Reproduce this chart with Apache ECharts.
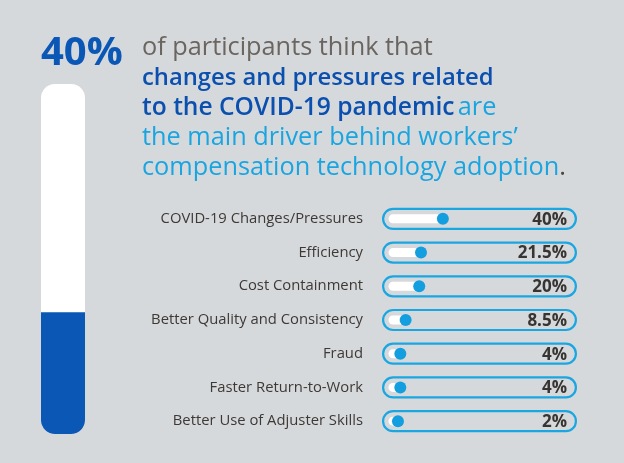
<!DOCTYPE html>
<html>
<head>
<meta charset="utf-8">
<script src="https://cdn.jsdelivr.net/npm/echarts@6/dist/echarts.min.js"></script>
<style>
html,body{margin:0;padding:0;background:#d6d9dc;}
#chart{width:624px;height:463px;}
</style>
</head>
<body>
<div id="chart"></div>
<script>
// ---- data ----
const headlineValue = 40;
const categories = [
  'COVID-19 Changes/Pressures',
  'Efficiency',
  'Cost Containment',
  'Better Quality and Consistency',
  'Fraud',
  'Faster Return-to-Work',
  'Better Use of Adjuster Skills'
];
const values = [40, 21.5, 20, 8.5, 4, 4, 2];
const headlineLines = [
  'of participants think that',
  'changes and pressures related',
  'to the COVID-19 pandemic',
  'are',
  'the main driver behind workers\u2019',
  'compensation technology adoption',
  '.'
];

// ---- chart ----
const FONT = '"Open Sans", "Noto Sans", sans-serif';
const chart = echarts.init(document.getElementById('chart'), null, {renderer: 'canvas'});

function renderRow(params, api) {
  const cs = params.coordSys;
  const v = api.value(0);
  const p = api.coord([v, api.value(1)]);
  const cy = p[1];
  const left = cs.x, w = cs.width;
  return {
    type: 'group',
    children: [
      {type: 'rect', shape: {x: left + 1.1, y: cy - 10, width: w - 2.2, height: 20, r: 10},
        style: {fill: 'none', stroke: '#1aa6e1', lineWidth: 2.2}},
      {type: 'rect', shape: {x: left + 6.5, y: cy - 4.5, width: Math.max(p[0] - left - 6.5, 0), height: 9, r: 4.5},
        style: {fill: '#ffffff'}},
      {type: 'circle', shape: {cx: p[0], cy: cy, r: 6}, style: {fill: '#139fdf'}},
      {type: 'text', x: left + w - 10, y: cy + 1,
        style: {text: String(v) + '%', align: 'right', verticalAlign: 'middle',
          font: 'bold 17px ' + FONT, fill: '#383431'}}
    ]
  };
}

const REG = '400 25.3px ' + FONT;
const MED = '500 25.3px ' + FONT;
const BOLD = '600 24.6px ' + FONT;
const BOLD2 = '600 23.8px ' + FONT;

const option = {
  backgroundColor: '#d6d9dc',
  animation: false,
  grid: [
    {left: 382, right: 47, top: 202, bottom: 25},
    {left: 41, width: 44, top: 84, height: 350}
  ],
  xAxis: [
    {type: 'value', gridIndex: 0, min: -11.5, max: 153.5, show: false},
    {type: 'category', gridIndex: 1, data: ['all'], show: false}
  ],
  yAxis: [
    {type: 'category', gridIndex: 0, data: categories, inverse: true,
      axisLine: {show: false}, axisTick: {show: false}, splitLine: {show: false},
      axisLabel: {margin: 19, fontSize: 14.8, color: '#3d3935', fontFamily: FONT}},
    {type: 'value', gridIndex: 1, min: 0, max: 115, show: false}
  ],
  series: [
    {
      type: 'custom', xAxisIndex: 0, yAxisIndex: 0,
      renderItem: renderRow,
      encode: {x: 0, y: 1},
      data: values.map((v, i) => [v, i])
    },
    {
      type: 'bar', xAxisIndex: 1, yAxisIndex: 1,
      barWidth: 44,
      showBackground: true,
      backgroundStyle: {color: '#ffffff', borderRadius: 14},
      itemStyle: {color: '#0a57b5', borderRadius: [0, 0, 14, 14]},
      data: [headlineValue]
    }
  ],
  graphic: [
    {type: 'text', left: 41, top: 34, style: {text: headlineValue + '%', font: 'bold 40px ' + FONT, fill: '#0a57b5'}},
    {type: 'text', x: 142, y: 48, style: {text: headlineLines[0], font: REG, fill: '#6b6560', verticalAlign: 'middle'}},
    {type: 'text', x: 142, y: 78, style: {text: headlineLines[1], font: BOLD2, fill: '#0b50ae', verticalAlign: 'middle'}},
    {type: 'text', x: 142, y: 108, style: {
      text: '{a|' + headlineLines[2] + '} {b|' + headlineLines[3] + '}', verticalAlign: 'middle',
      rich: {a: {font: BOLD, fill: '#0b50ae'}, b: {font: MED, fill: '#1aa5e0'}}}},
    {type: 'text', x: 142, y: 138, style: {text: headlineLines[4], font: MED, fill: '#1aa5e0', verticalAlign: 'middle'}},
    {type: 'text', x: 142, y: 168, style: {
      text: '{b|' + headlineLines[5] + '}{c|' + headlineLines[6] + '}', verticalAlign: 'middle',
      rich: {b: {font: MED, fill: '#1aa5e0'}, c: {font: MED, fill: '#4a4540'}}}}
  ]
};
chart.setOption(option);
</script>
</body>
</html>
